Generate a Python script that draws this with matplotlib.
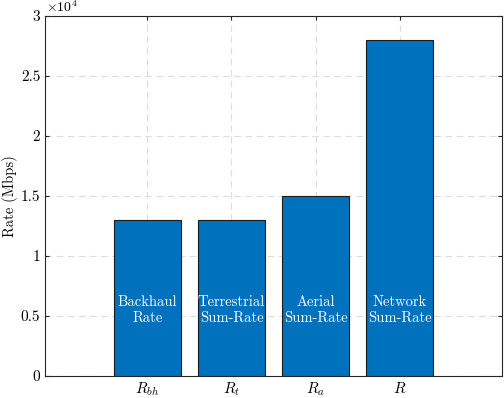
import numpy as np
import matplotlib.pyplot as plt

plt.rcParams['font.family'] = 'serif'
plt.rcParams['font.serif'] = ['cmr10']
plt.rcParams['mathtext.fontset'] = 'cm'
plt.rcParams['axes.formatter.use_mathtext'] = True

tick_labels = [r'$R_{bh}$', r'$R_t$', r'$R_a$', r'$R$']
bar_names = ['Backhaul\nRate', 'Terrestrial\nSum-Rate', 'Aerial\nSum-Rate', 'Network\nSum-Rate']
rates = [1.3e4, 1.3e4, 1.5e4, 2.8e4]
scale = 1e4

x = np.arange(1, len(rates) + 1)
yticks = np.arange(0, 3.01, 0.5)

fig = plt.figure(figsize=(5.04, 3.98), dpi=100)
ax = fig.add_axes([45 / 504, 22 / 398, 457 / 504, 360 / 398])

ax.bar(x, rates, width=0.8, color='#0072BD', edgecolor='#1a1a1a', linewidth=0.8, zorder=3)
for xi, name in zip(x, bar_names):
    ax.text(xi, 0.55e4, name, ha='center', va='center', color='white', fontsize=10.5,
            linespacing=1.15, zorder=4)

ax.set_xlim(-0.22, 5.22)
ax.set_ylim(0, 3e4)
ax.set_xticks(x)
ax.set_xticklabels(tick_labels, fontsize=12)
ax.set_yticks(yticks * scale)
ax.set_yticklabels(['%g' % v for v in yticks])
ax.text(0.002, 1.004, r'$\times10^{4}$', transform=ax.transAxes, ha='left', va='bottom', fontsize=10)
ax.tick_params(direction='in', top=True, right=True, labelsize=11, length=3, color='#262626')
ax.set_ylabel('Rate (Mbps)', fontsize=10.5)
ax.yaxis.set_label_coords(-0.058, 0.5)

ax.grid(True, linestyle=(0, (6, 4)), color='#dddddd', linewidth=0.8, zorder=0)
for s in ax.spines.values():
    s.set_color('#262626')
    s.set_linewidth(0.8)

fig.savefig('out.png', dpi=100)
